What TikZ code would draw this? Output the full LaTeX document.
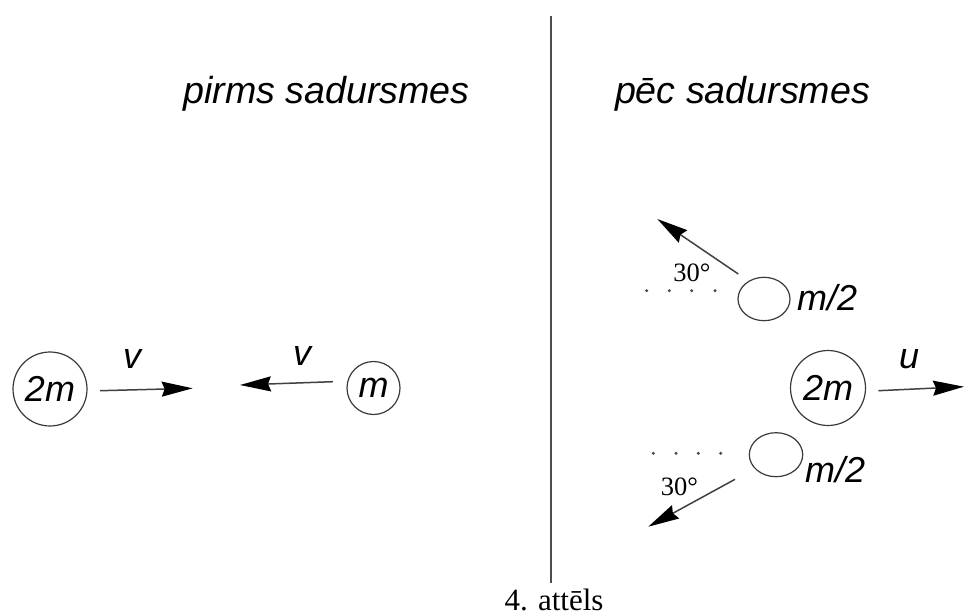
\documentclass[tikz,border=0pt]{standalone}
\usepackage{fontspec}
\setmainfont{Liberation Sans}
\newfontfamily\serifface{Liberation Serif}
\usetikzlibrary{arrows.meta,shapes.geometric}
\definecolor{ink}{HTML}{3A3A3A}
\tikzset{
  body/.style={circle,draw=ink,line width=1.2pt,inner sep=0pt},
  smallbody/.style={ellipse,draw=ink,line width=1.2pt,inner sep=0pt},
  lab/.style={inner sep=0pt,font=\fontsize{36}{40}\selectfont\itshape},
  head/.style={inner sep=0pt,anchor=base,font=\fontsize{37.6}{42}\selectfont\itshape},
  ang/.style={inner sep=0pt,anchor=base,font=\serifface\fontsize{26.5}{30}\selectfont},
  vel/.style={draw=black!75,line width=1.5pt,-{Stealth[length=31pt,width=15pt,inset=3pt,color=black,fill=black]}},
  dotline/.style={fill=black!70}
}
\begin{document}
\begin{tikzpicture}[x=1pt,y=-1pt]
\useasboundingbox (0,0) rectangle (965,615);
% divider
\coordinate (lt) at (551,16);
\coordinate (lb) at (551,583);
\draw[draw=ink!90,line width=1.8pt] (lt) -- (lb);
% headings
\node[head] (h1) at (326.5,103) {pirms sadursmes};
\node[head] (h2) at (742.5,103) {pēc sadursmes};
% caption
\node[inner sep=0pt,anchor=base,font=\serifface\fontsize{31}{34}\selectfont] (cap) at (554,610) {4. attēls};
% before collision
\node[body,minimum size=74pt,lab] (A) at (50,389) {2m};
\node[body,minimum size=53pt,lab] (B) at (373.5,388) {m};
\coordinate (a1) at (100,390.7);
\coordinate (a2) at (192.7,388.3);
\draw[vel] (a1) -- (a2);
\coordinate (b1) at (333,381.7);
\coordinate (b2) at (240,385);
\draw[vel] (b1) -- (b2);
\node[lab] (vA) at (132,359) {v};
\node[lab] (vB) at (302,356) {v};
% after collision
\node[body,minimum size=75pt,lab] (C) at (828,388) {2m};
\coordinate (c1) at (878.3,390.7);
\coordinate (c2) at (964,386.7);
\draw[vel] (c1) -- (c2);
\node[lab] (uC) at (909,359) {u};
\node[smallbody,minimum width=52pt,minimum height=43.4pt] (D) at (764,299) {};
\node[lab,anchor=base west] (mD) at (797,310) {m/2};
\coordinate (d1) at (738.3,274);
\coordinate (d2) at (657.3,219);
\draw[vel] (d1) -- (d2);
\node[ang] (angD) at (692,281.7) {30°};
\foreach \x [count=\i] in {646.7,669.3,691.7,715}
  \fill[dotline] (\x,290.7) circle (1.7pt);
\node[smallbody,minimum width=53.4pt,minimum height=44pt] (E) at (776,454.7) {};
\node[lab,anchor=base west] (mE) at (805,482) {m/2};
\coordinate (e1) at (735,479.3);
\coordinate (e2) at (648.3,526.7);
\draw[vel] (e1) -- (e2);
\node[ang] (angE) at (679.5,495) {30°};
\foreach \x [count=\i] in {653.3,676,698.3,720.7}
  \fill[dotline] (\x,453.3) circle (1.7pt);
\end{tikzpicture}
\end{document}
